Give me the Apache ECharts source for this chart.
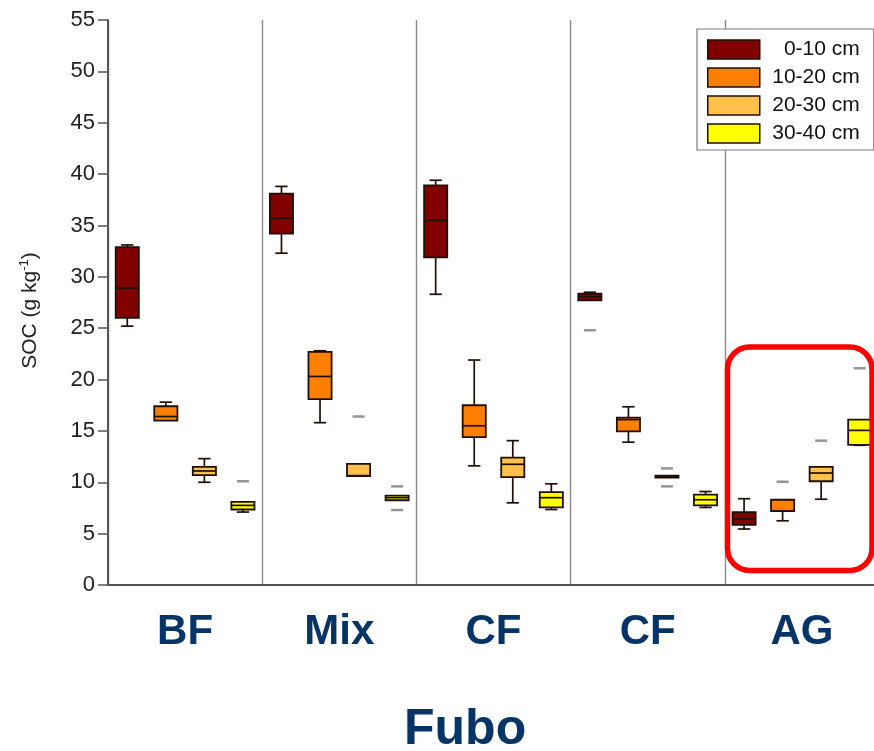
<!DOCTYPE html>
<html>
<head>
<meta charset="utf-8">
<title>Fubo SOC</title>
<script src="https://cdn.jsdelivr.net/npm/echarts@6/dist/echarts.min.js"></script>
<style>
  html, body { margin: 0; padding: 0; background: #fff; }
  #chart { width: 874px; height: 751px; }
</style>
</head>
<body>
<div id="chart"></div>
<script>
// Land-use groups and soil depth layers
const groups = ['BF', 'Mix', 'CF', 'CF', 'AG'];
const depths = ['0-10 cm', '10-20 cm', '20-30 cm', '30-40 cm'];
const depthColors = ['#800000', '#FF8000', '#FFC04C', '#FFFF00'];

// Box statistics per depth, one row per group: [min, Q1, median, Q3, max]
const soc0_10 = [
  [25.2, 26.0, 28.9, 32.9, 33.1],
  [32.3, 34.2, 35.7, 38.1, 38.8],
  [28.3, 31.9, 35.5, 38.9, 39.4],
  [27.7, 27.7, 28.05, 28.35, 28.5],
  [5.45, 5.85, 6.45, 7.1, 8.4]
];
const soc10_20 = [
  [16.0, 16.0, 16.4, 17.4, 17.8],
  [15.8, 18.1, 20.3, 22.7, 22.8],
  [11.6, 14.4, 15.5, 17.5, 21.9],
  [13.9, 14.95, 16.1, 16.3, 17.35],
  [6.25, 7.2, 7.2, 8.3, 8.3]
];
const soc20_30 = [
  [10.0, 10.7, 11.1, 11.5, 12.3],
  [10.6, 10.6, 10.65, 11.8, 11.8],
  [8.0, 10.5, 11.75, 12.4, 14.05],
  [10.45, 10.45, 10.55, 10.65, 10.65],
  [8.35, 10.1, 10.9, 11.5, 11.5]
];
const soc30_40 = [
  [7.1, 7.35, 7.75, 8.1, 8.1],
  [8.25, 8.25, 8.5, 8.7, 8.7],
  [7.35, 7.55, 8.5, 9.05, 9.85],
  [7.55, 7.75, 8.3, 8.8, 9.1],
  [13.6, 13.65, 15.05, 16.1, 16.1]
];
const boxStats = [soc0_10, soc10_20, soc20_30, soc30_40];

// Outliers per depth: [group index, value]
const out0_10 = [[3, 24.8]];
const out10_20 = [[4, 10.05]];
const out20_30 = [[1, 16.4], [3, 11.35], [3, 9.6], [4, 14.05]];
const out30_40 = [[0, 10.1], [1, 9.6], [1, 7.3], [4, 21.1]];
const outliers = [out0_10, out10_20, out20_30, out30_40];

// y axis ticks
const yMin = 0, yMax = 55, yStep = 5;

const FONT = "'Liberation Sans', Arial, sans-serif";
const NAVY = '#063466';
const EDGE = '#1e1008';

// one slot per (group, depth) on the hidden slot axis
const slots = [];
groups.forEach((g, gi) => depths.forEach((d, di) => slots.push(gi + '-' + di)));
const slotIndex = (gi, di) => gi * depths.length + di;

function renderBox(params, api) {
  const x = api.value(0);
  const vMin = api.value(1), q1 = api.value(2), med = api.value(3), q3 = api.value(4), vMax = api.value(5);
  const band = api.size([1, 0])[0];
  const bw = band * 0.6;
  const cw = band * 0.32;
  const cx = api.coord([x, med])[0];
  const y = v => api.coord([x, v])[1];
  const lineStyle = { stroke: EDGE, lineWidth: 1.7, fill: null };
  const children = [];
  if (vMax > q3) {
    children.push({ type: 'line', shape: { x1: cx, y1: y(q3), x2: cx, y2: y(vMax) }, style: lineStyle });
    children.push({ type: 'line', shape: { x1: cx - cw / 2, y1: y(vMax), x2: cx + cw / 2, y2: y(vMax) }, style: lineStyle });
  }
  if (vMin < q1) {
    children.push({ type: 'line', shape: { x1: cx, y1: y(q1), x2: cx, y2: y(vMin) }, style: lineStyle });
    children.push({ type: 'line', shape: { x1: cx - cw / 2, y1: y(vMin), x2: cx + cw / 2, y2: y(vMin) }, style: lineStyle });
  }
  children.push({
    type: 'rect',
    shape: { x: cx - bw / 2, y: y(q3), width: bw, height: Math.max(y(q1) - y(q3), 1) },
    style: { fill: api.visual('color'), stroke: EDGE, lineWidth: 1.8 }
  });
  children.push({ type: 'line', shape: { x1: cx - bw / 2, y1: y(med), x2: cx + bw / 2, y2: y(med) }, style: lineStyle });
  return { type: 'group', children: children };
}

const series = [];
depths.forEach((name, di) => {
  series.push({
    name: name,
    type: 'custom',
    xAxisIndex: 0,
    yAxisIndex: 0,
    itemStyle: { color: depthColors[di] },
    encode: { x: 0, y: [1, 2, 3, 4, 5] },
    data: boxStats[di].map((s, gi) => [slotIndex(gi, di)].concat(s)),
    renderItem: renderBox,
    clip: false,
    z: 3
  });
});
depths.forEach((name, di) => {
  series.push({
    name: name + ' outliers',
    type: 'scatter',
    xAxisIndex: 0,
    yAxisIndex: 0,
    symbol: 'rect',
    symbolSize: [12, 2.5],
    itemStyle: { color: '#7a7a7a' },
    data: outliers[di].map(o => [slotIndex(o[0], di), o[1]]),
    z: 3
  });
});

const chart = echarts.init(document.getElementById('chart'), null, { renderer: 'canvas' });
chart.setOption({
  backgroundColor: '#ffffff',
  animation: false,
  textStyle: { fontFamily: FONT },
  title: {
    text: 'Fubo',
    left: 404,
    top: 705,
    padding: 0,
    textStyle: { fontFamily: FONT, fontSize: 50, fontWeight: 'bold', color: NAVY }
  },
  grid: { left: 108, top: 20, width: 771, height: 565, containLabel: false, outerBoundsMode: 'none' },
  legend: {
    data: depths,
    orient: 'vertical',
    left: 697,
    top: 29,
    padding: [10, 14, 6, 10],
    itemWidth: 52,
    itemHeight: 19,
    itemGap: 7,
    icon: 'rect',
    backgroundColor: '#ffffff',
    borderColor: '#7a7a7a',
    borderWidth: 1.2,
    borderRadius: 0,
    itemStyle: { borderColor: EDGE, borderWidth: 1.5 },
    formatter: n => '{r|' + n + '}',
    textStyle: {
      fontFamily: FONT,
      fontSize: 21,
      color: '#111',
      lineHeight: 19,
      rich: { r: { width: 95, align: 'right', fontSize: 21, lineHeight: 19, fontFamily: FONT, color: '#111' } }
    }
  },
  xAxis: [
    {
      type: 'category',
      data: slots,
      gridIndex: 0,
      position: 'top',
      boundaryGap: true,
      axisLine: { show: true, lineStyle: { color: '#555', width: 1.6 } },
      axisTick: { show: false },
      axisLabel: { show: false },
      splitLine: { show: false }
    },
    {
      type: 'category',
      data: groups,
      gridIndex: 0,
      position: 'bottom',
      boundaryGap: true,
      axisLine: { show: true, onZero: false, lineStyle: { color: '#555', width: 2 } },
      axisTick: { show: false },
      axisLabel: {
        show: true,
        margin: 26,
        fontFamily: FONT,
        fontSize: 42,
        fontWeight: 'bold',
        color: NAVY
      },
      splitLine: { show: true, lineStyle: { color: '#8a8a8a', width: 1.4 } }
    }
  ],
  yAxis: {
    type: 'value',
    min: yMin,
    max: yMax,
    interval: yStep,
    name: 'SOC (g kg{sup|-1})',
    nameLocation: 'middle',
    nameGap: 66,
    nameRotate: 90,
    nameTextStyle: {
      fontFamily: FONT,
      fontSize: 21,
      color: '#222',
      padding: [0, 16, 0, 0],
      rich: { sup: { fontSize: 13, padding: [0, 0, 11, 0], fontFamily: FONT, color: '#222' } }
    },
    axisLine: { show: true, lineStyle: { color: '#555', width: 2 } },
    axisTick: { show: true, inside: false, length: 10, lineStyle: { color: '#555', width: 1.5 } },
    axisLabel: { margin: 13, fontFamily: FONT, fontSize: 22, color: '#222' },
    splitLine: { show: false }
  },
  graphic: [
    {
      type: 'rect',
      z: 10,
      shape: { x: 727.5, y: 347, width: 144.5, height: 223.5, r: 22 },
      style: { fill: null, stroke: '#FF0000', lineWidth: 5.5 }
    }
  ],
  series: series
});
</script>
</body>
</html>
